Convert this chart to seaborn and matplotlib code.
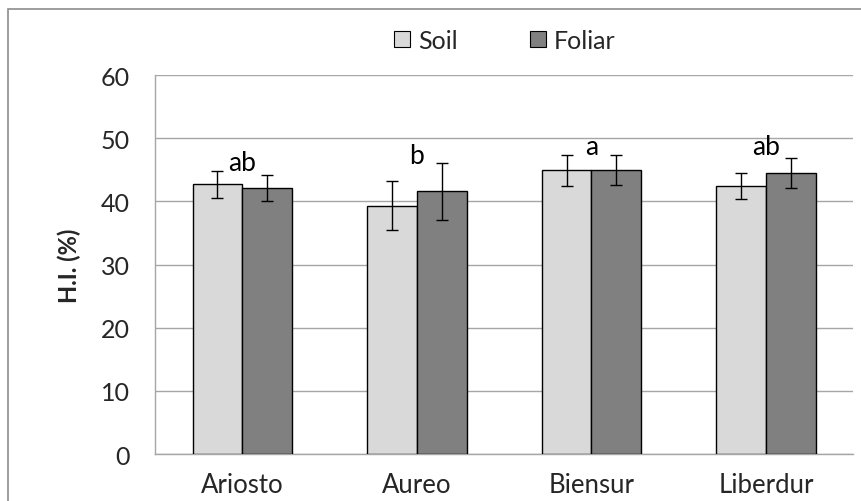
import numpy as np
import pandas as pd
import matplotlib
matplotlib.use("Agg")
import matplotlib.pyplot as plt
from matplotlib.patches import Patch, Rectangle
import seaborn as sns

# values
cultivars = ["Ariosto", "Aureo", "Biensur", "Liberdur"]
soil = [42.7, 39.3, 44.9, 42.4]
foliar = [42.1, 41.6, 45.0, 44.5]
soil_err = [2.1, 3.9, 2.4, 2.1]
foliar_err = [2.1, 4.5, 2.4, 2.4]
letters = ["ab", "b", "a", "ab"]
letter_y = [45.0, 46.0, 47.5, 47.5]

df = pd.DataFrame({
    "cultivar": cultivars * 2,
    "treatment": ["Soil"] * 4 + ["Foliar"] * 4,
    "hi": soil + foliar,
})

sns.set_theme(style="white")
plt.rcParams["font.family"] = ["Lato", "DejaVu Sans"]

fig = plt.figure(figsize=(8.61, 5.02), dpi=100)
ax = fig.add_axes([0.180, 0.0936, 0.811, 0.755])

colors = {"Soil": "#d9d9d9", "Foliar": "#808080"}
sns.barplot(data=df, x="cultivar", y="hi", hue="treatment", palette=colors,
            width=0.57, errorbar=None, edgecolor="black", linewidth=1.0,
            legend=False, ax=ax, zorder=3)

# error bars from the bar positions seaborn gave
for cont, errs in zip(ax.containers, [soil_err, foliar_err]):
    for bar, e in zip(cont, errs):
        xc = bar.get_x() + bar.get_width() / 2
        ax.errorbar(xc, bar.get_height(), yerr=e, fmt="none", ecolor="black",
                    elinewidth=1.0, capsize=4, capthick=1.0, zorder=4)

for i, (lab, y) in enumerate(zip(letters, letter_y)):
    ax.text(i, y, lab, ha="center", va="baseline", fontsize=19, color="black")

ax.set_xlim(-0.5, 3.5)
ax.set_ylim(0, 60)
ax.set_yticks(np.arange(0, 61, 10))
ax.yaxis.grid(True, color="#a6a6a6", linewidth=1.0, zorder=0)
ax.set_axisbelow(True)
ax.set_xlabel("")
ax.set_ylabel("H.I. (%)", fontsize=17, fontweight="bold", labelpad=14)

for s in ["top", "right"]:
    ax.spines[s].set_visible(False)
for s in ["left", "bottom"]:
    ax.spines[s].set_color("#a6a6a6")
    ax.spines[s].set_linewidth(1.0)

ax.set_xticks(np.arange(-0.5, 4, 1.0), minor=True)
ax.tick_params(axis="x", which="major", length=0, labelsize=18.5, pad=13)
ax.tick_params(axis="x", which="minor", length=8, color="#a6a6a6", width=1.0, direction="out")
ax.tick_params(axis="y", which="major", length=8, color="#a6a6a6", width=1.0,
               direction="out", labelsize=18, pad=10)

handles = [Patch(facecolor=colors[k], edgecolor="black", linewidth=0.8) for k in ["Soil", "Foliar"]]
fig.legend(handles, ["Soil", "Foliar"], loc="center", bbox_to_anchor=(0.586, 0.918),
           ncol=2, frameon=False, fontsize=18, handlelength=0.65, handleheight=0.65,
           handletextpad=0.3, columnspacing=2.9)

# outer chart frame
fig.patches.append(Rectangle((8 / 861, -0.1), 1.2, 1.1 - 10 / 502,
                             transform=fig.transFigure, fill=False,
                             edgecolor="#8c8c8c", linewidth=1.2, zorder=0))

fig.savefig("out.png", dpi=100)
